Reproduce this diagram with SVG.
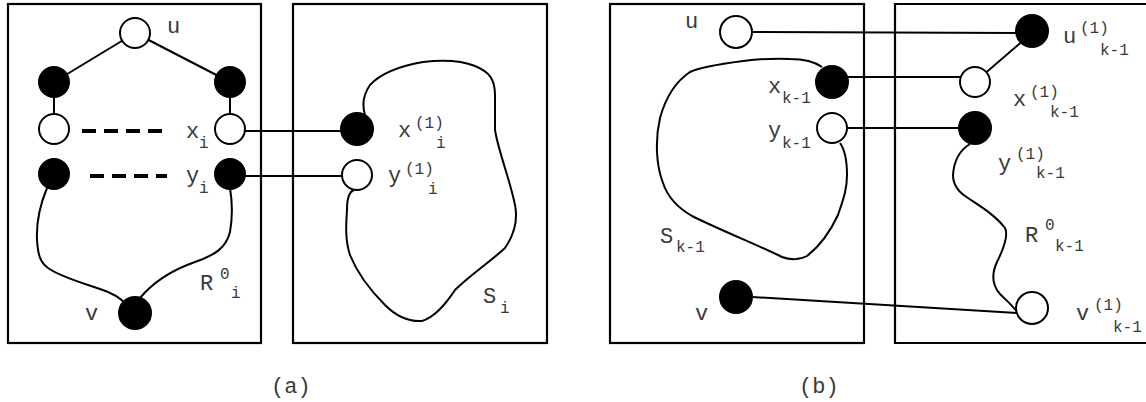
<svg xmlns="http://www.w3.org/2000/svg" width="1146" height="402" viewBox="0 0 1146 402">
<style>
.box{fill:none;stroke:#000;stroke-width:2.2}
.ln{fill:none;stroke:#000;stroke-width:2}
.dash{fill:none;stroke:#000;stroke-width:4;stroke-dasharray:14 8}
.w{fill:#fff;stroke:#000;stroke-width:2}
.b{fill:#000;stroke:#000;stroke-width:2}
text{font-family:"Liberation Mono","DejaVu Sans Mono",monospace;fill:#3a3a3a;font-size:22px}
.s{font-size:16px}
</style>
<rect width="1146" height="402" fill="#fff"/>
<g id="frames">
<rect class="box" x="8" y="4" width="253" height="339"/>
<rect class="box" x="293" y="4" width="254" height="339"/>
<rect class="box" x="610" y="4" width="254" height="339"/>
<polyline class="box" points="1150,4 895,4 895,343 1150,343"/>
</g>
<g id="connectors">
<line class="ln" x1="135" y1="33" x2="54" y2="82"/>
<line class="ln" x1="135" y1="33" x2="230" y2="82"/>
<line class="ln" x1="54" y1="82" x2="54" y2="128"/>
<line class="ln" x1="230" y1="82" x2="230" y2="128"/>
<line class="dash" x1="82" y1="131" x2="165" y2="131"/>
<line class="dash" x1="90" y1="176" x2="167" y2="176"/>
<line class="ln" x1="230" y1="131" x2="357" y2="131"/>
<line class="ln" x1="230" y1="176" x2="357" y2="176"/>
<path class="ln" d="M47,188 C40,205 36,220 37,240 C38,255 40,262 48,268 C62,278 90,285 108,292 C120,297 128,305 133,312"/>
<path class="ln" d="M230,188 C232,200 233,215 230,232 C226,248 215,255 195,262 C175,269 155,280 140,298"/>
<path class="ln" d="M365,115 C362,105 363,95 370,85 C380,74 400,66 423,62 C440,60 460,60 475,66 C490,72 495,80 495,95 L495,130 C498,150 510,180 515,205 C518,220 514,235 505,248 C490,262 470,275 455,290 C445,305 435,317 422,321 C408,322 395,315 385,305 C370,290 358,275 350,255 C345,240 346,225 347,210 C347,198 349,192 355,189"/>
<line class="ln" x1="736" y1="32" x2="1032" y2="33"/>
<line class="ln" x1="832" y1="77" x2="975" y2="77"/>
<line class="ln" x1="832" y1="128" x2="975" y2="128"/>
<line class="ln" x1="736" y1="296" x2="1017" y2="313"/>
<line class="ln" x1="1032" y1="33" x2="975" y2="82"/>
<path class="ln" d="M822,67 C815,62 805,59 790,59 C775,58 760,59 743,61 C720,64 700,67 690,72 C675,82 665,100 660,118 C655,140 656,165 663,183 C668,198 678,208 692,216 C720,230 760,246 782,257 C790,260 800,260 807,256 C820,246 830,232 838,215 C843,200 847,190 847,175 C847,160 845,150 840,143"/>
<path class="ln" d="M970,144 C960,150 954,160 953,175 C953,185 958,192 968,198 C980,206 995,215 1005,228 C1009,236 1003,250 997,262 C991,275 992,285 1000,294 C1007,301 1013,306 1017,312"/>
</g>
<g id="node-u-a"><circle class="w" cx="135" cy="33" r="15"/></g>
<g id="node-l1"><circle class="b" cx="54" cy="82" r="15"/></g>
<g id="node-r1"><circle class="b" cx="230" cy="82" r="15"/></g>
<g id="node-l2"><circle class="w" cx="54" cy="129" r="15"/></g>
<g id="node-xi"><circle class="w" cx="230" cy="129" r="15"/></g>
<g id="node-l3"><circle class="b" cx="54" cy="174" r="15"/></g>
<g id="node-yi"><circle class="b" cx="230" cy="174" r="15"/></g>
<g id="node-v-a"><circle class="b" cx="135" cy="313" r="16"/></g>
<g id="node-x1i"><circle class="b" cx="357" cy="129" r="16"/></g>
<g id="node-y1i"><circle class="w" cx="357" cy="175" r="15"/></g>
<g id="node-u-b"><circle class="w" cx="736" cy="32" r="16"/></g>
<g id="node-xk"><circle class="b" cx="832" cy="82" r="16"/></g>
<g id="node-yk"><circle class="w" cx="832" cy="128" r="15"/></g>
<g id="node-v-b"><circle class="b" cx="736" cy="297" r="16"/></g>
<g id="node-u1k"><circle class="b" cx="1032" cy="31" r="16"/></g>
<g id="node-x1k"><circle class="w" cx="975" cy="82" r="15"/></g>
<g id="node-y1k"><circle class="b" cx="975" cy="128" r="16"/></g>
<g id="node-v1k"><circle class="w" cx="1032" cy="308" r="16"/></g>
<g id="labels">
<text x="167" y="33">u</text>
<text x="186" y="138">x</text><text class="s" x="199" y="148">i</text>
<text x="186" y="182">y</text><text class="s" x="199" y="193">i</text>
<text x="200" y="290">R</text><text class="s" x="220" y="279">0</text><text class="s" x="231" y="298">i</text>
<text x="85" y="320">v</text>
<text x="398" y="137">x</text><text class="s" x="415" y="128">(1)</text><text class="s" x="436" y="148">i</text>
<text x="388" y="182">y</text><text class="s" x="405" y="174">(1)</text><text class="s" x="428" y="194">i</text>
<text x="483" y="303">S</text><text class="s" x="500" y="313">i</text>
<text x="685" y="28">u</text>
<text x="768" y="93">x</text><text class="s" x="782" y="103">k-1</text>
<text x="768" y="137">y</text><text class="s" x="782" y="148">k-1</text>
<text x="660" y="243">S</text><text class="s" x="676" y="252">k-1</text>
<text x="695" y="320">v</text>
<text x="1063" y="43">u</text><text class="s" x="1080" y="33">(1)</text><text class="s" x="1100" y="55">k-1</text>
<text x="1013" y="106">x</text><text class="s" x="1030" y="97">(1)</text><text class="s" x="1050" y="117">k-1</text>
<text x="998" y="170">y</text><text class="s" x="1016" y="159">(1)</text><text class="s" x="1036" y="178">k-1</text>
<text x="1025" y="242">R</text><text class="s" x="1045" y="230">0</text><text class="s" x="1055" y="251">k-1</text>
<text x="1076" y="320">v</text><text class="s" x="1094" y="310">(1)</text><text class="s" x="1113" y="332">k-1</text>
<text x="271" y="393">(a)</text>
<text x="799" y="393">(b)</text>
</g>
</svg>
